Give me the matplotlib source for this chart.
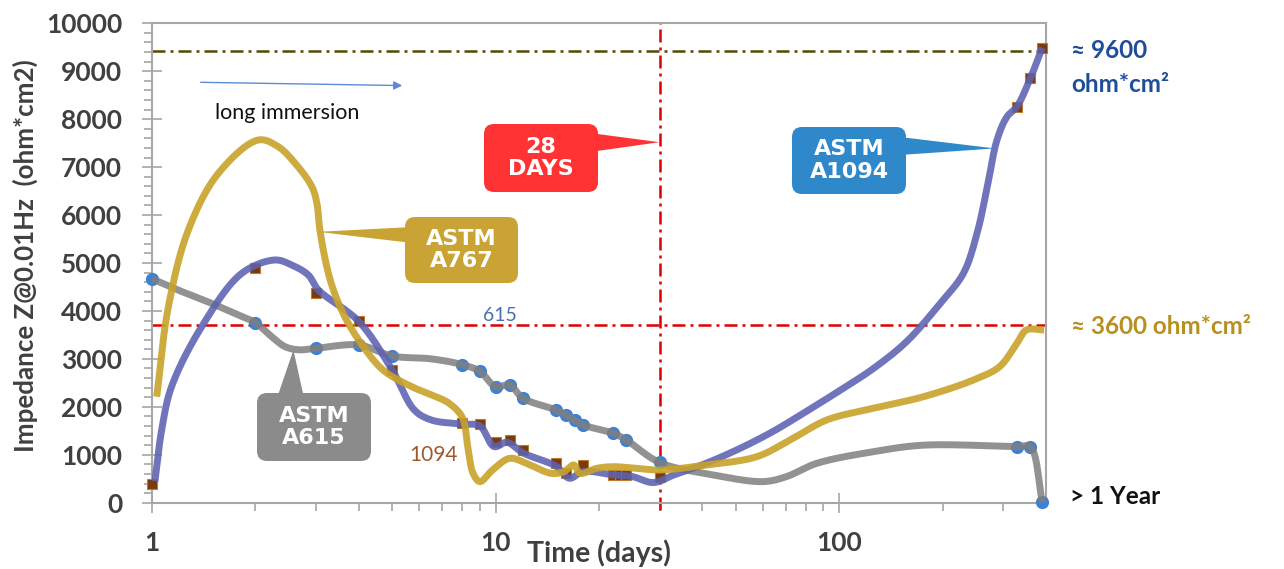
import numpy as np
import matplotlib
matplotlib.use("Agg")
import matplotlib.pyplot as plt
from matplotlib.patches import FancyBboxPatch, Polygon, FancyArrowPatch
from matplotlib.transforms import IdentityTransform
from matplotlib.ticker import FixedLocator, NullFormatter, FixedFormatter

# ---------------- data ----------------
# ASTM A615 (gray line, blue circle markers)
a615_line_x = [1, 1.19, 1.49, 1.78, 2, 2.23, 2.44, 2.67, 3, 4, 5, 6.5, 8, 9, 10, 11, 12, 15, 16, 17,
               18, 22, 24, 30, 43, 60, 70, 86, 126, 176, 330, 360, 390]
a615_line_y = [4670, 4437, 4159, 3915, 3755, 3463, 3254, 3190, 3220, 3290, 3060, 3000, 2880, 2740,
               2420, 2455, 2180, 1935, 1830, 1725, 1620, 1450, 1310, 840, 580, 440, 540, 820, 1065,
               1200, 1170, 1170, 20]
a615_pts_x = [1, 2, 3, 4, 5, 8, 9, 10, 11, 12, 15, 16, 17, 18, 22, 24, 30, 330, 360, 390]
a615_pts_y = [4660, 3755, 3220, 3290, 3060, 2880, 2740, 2420, 2455, 2180, 1935, 1830, 1725,
              1620, 1450, 1310, 840, 1170, 1170, 20]

# ASTM A1094 (blue line, brown square markers)
a1094_line_x = [1.02, 1.067, 1.14, 1.395, 1.825, 2.28, 2.55, 2.85, 3.05, 4.0,
                5.0, 5.8, 6.5, 8.0, 9.0, 9.9, 10.8, 12.0, 15, 16.4, 18, 22, 25, 28.8, 33, 41,
                51.5, 64, 80, 101, 126, 157, 197, 230, 252, 270, 288, 308, 329, 360, 390]
a1094_line_y = [450, 1516, 2420, 3671, 4785, 5063, 4958, 4750, 4437, 3780,
                2770, 1935, 1725, 1640, 1600, 1170, 1260, 1040, 760, 510, 650, 580, 545, 420, 578,
                822, 1134, 1481, 1898, 2351, 2803, 3358, 4160, 4785, 5620, 6592, 7566, 8052, 8260,
                8850, 9490]
a1094_pts_x = [1, 2, 3, 4, 5, 8, 9, 10, 11, 12, 15, 16, 18, 22, 23, 24, 30, 330, 360, 390]
a1094_pts_y = [400, 4890, 4370, 3780, 2770, 1655, 1635, 1270, 1310, 1100, 820, 610, 785, 580,
               580, 580, 545, 8260, 8850, 9490]

# ASTM A767 (gold line)
a767_x = [1.032, 1.116, 1.276, 1.56, 2.04, 2.33, 2.61, 2.92, 3.02,
          3.08, 3.3, 3.6, 4.0, 4.7, 5.7, 6.5, 7.3, 8.0, 8.3, 8.6, 9.0, 9.8, 11.0, 12.3, 14.5,
          15.8, 16.9, 17.6, 19.7, 22, 25.7, 30, 41, 57.6, 72, 92, 126, 176, 246, 293, 329, 351, 395]
a767_y = [2211, 4088, 5690, 6871, 7566, 7426, 7080, 6592, 6245, 5690,
          4650, 3950, 3390, 2770, 2420, 2250, 2080, 1780, 1170, 613, 440, 682, 926, 821, 613,
          647, 786, 613, 717, 751, 717, 682, 786, 960, 1308, 1725, 1970, 2211, 2560, 2837, 3325,
          3603, 3603]

ref_high = 9420      # dark dash-dot line (≈ 9600)
ref_low = 3700       # red dash-dot line (≈ 3600)
day28 = 30           # red vertical line position

x_major = [1, 10, 100]
x_major_labels = ["1", "10", "100"]
x_minor = [2, 3, 4, 5, 6, 7, 8, 9, 20, 30, 40, 50, 60, 70, 80, 90, 200, 300]
y_major = list(range(0, 10001, 1000))
y_minor = list(range(0, 10001, 200))

# ---------------- figure ----------------
W, H = 1284, 569
fig = plt.figure(figsize=(W / 100, H / 100), dpi=100)
L, R, T, B = 152, 1046, 23.3, 502.7
ax = fig.add_axes([L / W, 1 - B / H, (R - L) / W, (B - T) / H])
ax.set_xscale("log")
ax.set_xlim(1, 400)
ax.set_ylim(0, 10000)

PXDEC = (R - L) / np.log10(400)
PXY = (B - T) / 10000.0


def smooth(xs, ys, n=24):
    X = np.log10(np.asarray(xs, float)) * PXDEC
    Y = np.asarray(ys, float) * PXY
    P = np.column_stack([X, Y])
    P = np.vstack([2 * P[0] - P[1], P, 2 * P[-1] - P[-2]])
    out = []
    for i in range(1, len(P) - 2):
        p0, p1, p2, p3 = P[i - 1], P[i], P[i + 1], P[i + 2]

        def tj(ti, a, b):
            return ti + max(np.hypot(*(b - a)), 1e-6) ** 0.5
        t0 = 0.0
        t1 = tj(t0, p0, p1)
        t2 = tj(t1, p1, p2)
        t3 = tj(t2, p2, p3)
        t = np.linspace(t1, t2, n, endpoint=False)[:, None]
        A1 = (t1 - t) / (t1 - t0) * p0 + (t - t0) / (t1 - t0) * p1
        A2 = (t2 - t) / (t2 - t1) * p1 + (t - t1) / (t2 - t1) * p2
        A3 = (t3 - t) / (t3 - t2) * p2 + (t - t2) / (t3 - t2) * p3
        B1 = (t2 - t) / (t2 - t0) * A1 + (t - t0) / (t2 - t0) * A2
        B2 = (t3 - t) / (t3 - t1) * A2 + (t - t1) / (t3 - t1) * A3
        C = (t2 - t) / (t2 - t1) * B1 + (t - t1) / (t2 - t1) * B2
        out.append(C)
    out.append(P[-2][None, :])
    C = np.vstack(out)
    return 10 ** (C[:, 0] / PXDEC), C[:, 1] / PXY


# reference lines
dd = (5.2, 2.0, 1.2, 2.0)
ax.axhline(ref_high, color="#5a4800", lw=1.8, dashes=dd, zorder=2)
ax.axhline(ref_low, color="#e00000", lw=1.8, dashes=dd, zorder=2)
ax.axvline(day28, ymin=-0.015, ymax=1, color="#e00000", lw=1.8, dashes=dd, zorder=2, clip_on=False)

# markers (under lines)
ax.plot(a615_pts_x, a615_pts_y, "o", ms=8.5, color="#3f80d2", mec="#3f80d2", zorder=3, clip_on=False)
ax.plot(a1094_pts_x, a1094_pts_y, "s", ms=7, color="#7a3a0e", mec="#c07a28", mew=0.8, zorder=3, clip_on=False)

# smooth lines
sx, sy = smooth(a615_line_x, a615_line_y)
ax.plot(sx, sy, color="#7f7f7f", lw=5, alpha=0.85, solid_capstyle="butt", zorder=4)
sx, sy = smooth(a1094_line_x, a1094_line_y)
ax.plot(sx, sy, color="#5c62b2", lw=5, alpha=0.88, solid_capstyle="butt", zorder=5)
sx, sy = smooth(a767_x, a767_y)
ax.plot(sx, sy, color="#c9a229", lw=5, alpha=0.9, solid_capstyle="butt", zorder=6)

# axes styling
for s in ax.spines.values():
    s.set_color("#a6a6a6")
    s.set_linewidth(1.5)
ax.xaxis.set_major_locator(FixedLocator(x_major))
ax.xaxis.set_major_formatter(FixedFormatter(x_major_labels))
ax.xaxis.set_minor_locator(FixedLocator(x_minor))
ax.xaxis.set_minor_formatter(NullFormatter())
ax.yaxis.set_major_locator(FixedLocator(y_major))
ax.yaxis.set_minor_locator(FixedLocator(y_minor))
ax.yaxis.set_minor_formatter(NullFormatter())
ax.tick_params(which="major", direction="inout", length=15, width=1.2, color="#a6a6a6",
               labelcolor="#404040", labelsize=19)
ax.tick_params(axis="y", which="major", pad=14)
ax.tick_params(axis="x", which="major", pad=13)
ax.tick_params(which="minor", direction="out", length=5.5, width=1.2, color="#a6a6a6")
for lab in ax.get_xticklabels() + ax.get_yticklabels():
    lab.set_family(["Lato", "DejaVu Sans"])
    lab.set_fontweight("bold")

ax.set_xlabel("Time (days)", family=["Lato", "DejaVu Sans"], fontweight="bold", fontsize=20.5,
              color="#404040", va="center")
ax.xaxis.set_label_coords(0.5, (B - 553) / (B - T))
ax.set_ylabel("Impedance Z@0.01Hz  (ohm*cm2)", family=["Lato", "DejaVu Sans"], fontweight="bold",
              fontsize=18.6, color="#404040", va="center")
ax.yaxis.set_label_coords((25 - L) / (R - L), (B - 256) / (B - T))

# ---------------- annotations ----------------
ID = IdentityTransform()


def P(px, py):
    return (px, H - py)


def callout(box, tip_data, base_pts, color, lines, fs=16):
    x0, y0, x1, y1 = box
    tip = ax.transData.transform(tip_data)
    poly = Polygon([P(*base_pts[0]), tuple(tip), P(*base_pts[1])], closed=True,
                   facecolor=color, edgecolor="none", transform=ID, zorder=10)
    fig.add_artist(poly)
    bp = FancyBboxPatch(P(x0, y1), x1 - x0, y1 - y0, boxstyle="round,pad=0,rounding_size=10",
                        facecolor=color, edgecolor="none", transform=ID, zorder=11)
    fig.add_artist(bp)
    cx = (x0 + x1) / 2
    cy = (y0 + y1) / 2
    fig.text(cx / W, 1 - cy / H, "\n".join(lines), ha="center", va="center", color="white",
             fontsize=fs, fontweight="bold", family="DejaVu Sans", linespacing=1.15, zorder=12)


callout((484, 124, 598, 192), (day28, 7520), [(590, 133), (590, 152)], "#ff3333", ["28", "DAYS"])
callout((405, 217, 518, 283), (3.04, 5650), [(412, 227), (412, 243)], "#c9a435", ["ASTM", "A767"])
callout((257, 393, 371, 461), (2.58, 3185), [(277, 398), (304, 398)], "#8c8b8b", ["ASTM", "A615"])
callout((792, 127, 906, 194), (284, 7390), [(900, 137), (900, 155)], "#2f88c9", ["ASTM", "A1094"])

# long immersion arrow + text
arr = FancyArrowPatch(ax.transData.transform((1.36, 8770)), ax.transData.transform((5.45, 8700)),
                      transform=ID, arrowstyle="-|>,head_length=5,head_width=2.5", color="#5b8bd0",
                      lw=1.0, zorder=7)
fig.add_artist(arr)
ax.text(2.47, 8130, "long immersion", ha="center", va="center", fontsize=15.5, color="#111111",
        family=["Lato", "DejaVu Sans"], zorder=7)

ax.text(10.3, 3900, "615", ha="center", va="center", fontsize=14, color="#4a6fae",
        family=["Lato", "DejaVu Sans"], zorder=7)
ax.text(6.6, 1000, "1094", ha="center", va="center", fontsize=15, color="#a0582a",
        family=["Lato", "DejaVu Sans"], zorder=7)

fam = ["Lato", "DejaVu Sans"]
fig.text(1071 / W, 1 - 50 / H, "≈ 9600", ha="left", va="center", fontsize=17.5, fontweight="bold",
         color="#1f4e99", family=fam)
fig.text(1071 / W, 1 - 85 / H, "ohm*cm²", ha="left", va="center", fontsize=17.5, fontweight="bold",
         color="#1f4e99", family=fam)
fig.text(1071 / W, 1 - 326 / H, "≈ 3600 ohm*cm²", ha="left", va="center", fontsize=17.5,
         fontweight="bold", color="#b8901e", family=fam)
fig.text(1070 / W, 1 - 497 / H, "> 1 Year", ha="left", va="center", fontsize=17.5, fontweight="bold",
         color="#111111", family=fam)

fig.savefig("out.png", dpi=100)
